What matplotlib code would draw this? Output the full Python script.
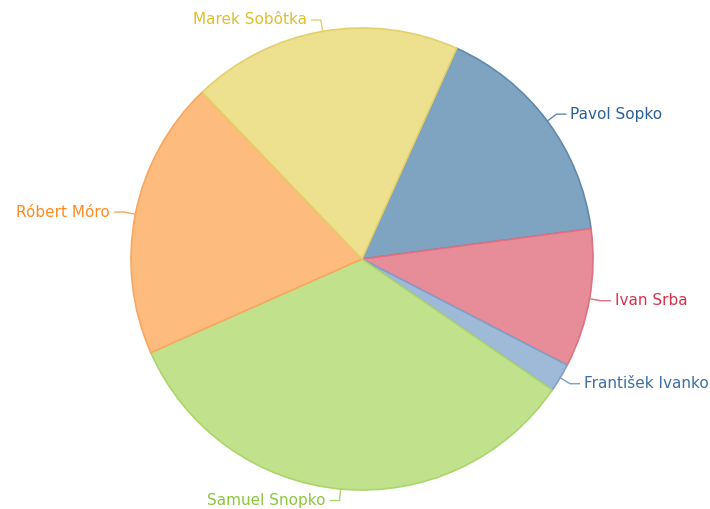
import numpy as np
import matplotlib
matplotlib.use('Agg')
import matplotlib.pyplot as plt

names = ['Pavol Sopko', 'Ivan Srba', 'František Ivanko', 'Samuel Snopko', 'Róbert Móro', 'Marek Sobôtka']
values = [16.2, 9.7, 2.0, 33.8, 19.5, 18.9]
fills = ['#7fa4c1', '#e78d99', '#9fb9d9', '#c2e18c', '#fdbb7e', '#ede08f']
edges = ['#5f89ad', '#e0707f', '#7f9fc8', '#aad46c', '#f9a660', '#e4d06a']
label_colors = ['#2b5f94', '#d7324b', '#3b6fa6', '#8cc63f', '#ff8a1e', '#dfbf2c']

fig = plt.figure(figsize=(7.1, 5.09), dpi=100)
ax = fig.add_axes([0, 0, 1, 1])

wedges, _ = ax.pie(values, colors=fills, startangle=65.8, counterclock=False,
                   radius=1.0, wedgeprops=dict(linewidth=1.2))
for w, ec in zip(wedges, edges):
    w.set_edgecolor(ec)

# labels with elbow connectors
for w, name, lc, ec in zip(wedges, names, label_colors, edges):
    th = np.deg2rad((w.theta1 + w.theta2) / 2)
    x0, y0 = np.cos(th), np.sin(th)
    x1, y1 = 1.05 * x0, 1.05 * y0
    side = 1 if x0 >= 0 else -1
    x2 = x1 + side * 0.04
    ax.plot([x0, x1, x2], [y0, y1, y1], color=ec, lw=1, solid_joinstyle='miter')
    ax.text(x2 + side * 0.02, y1, name, color=lc, fontsize=11,
            ha='left' if side > 0 else 'right', va='center')

ax.set_aspect('auto')
ax.set_xlim(-362/231, (710-362)/231)
ax.set_ylim(-(509-259)/231, 259/231)
ax.axis('off')

fig.savefig('out.png', dpi=100)
